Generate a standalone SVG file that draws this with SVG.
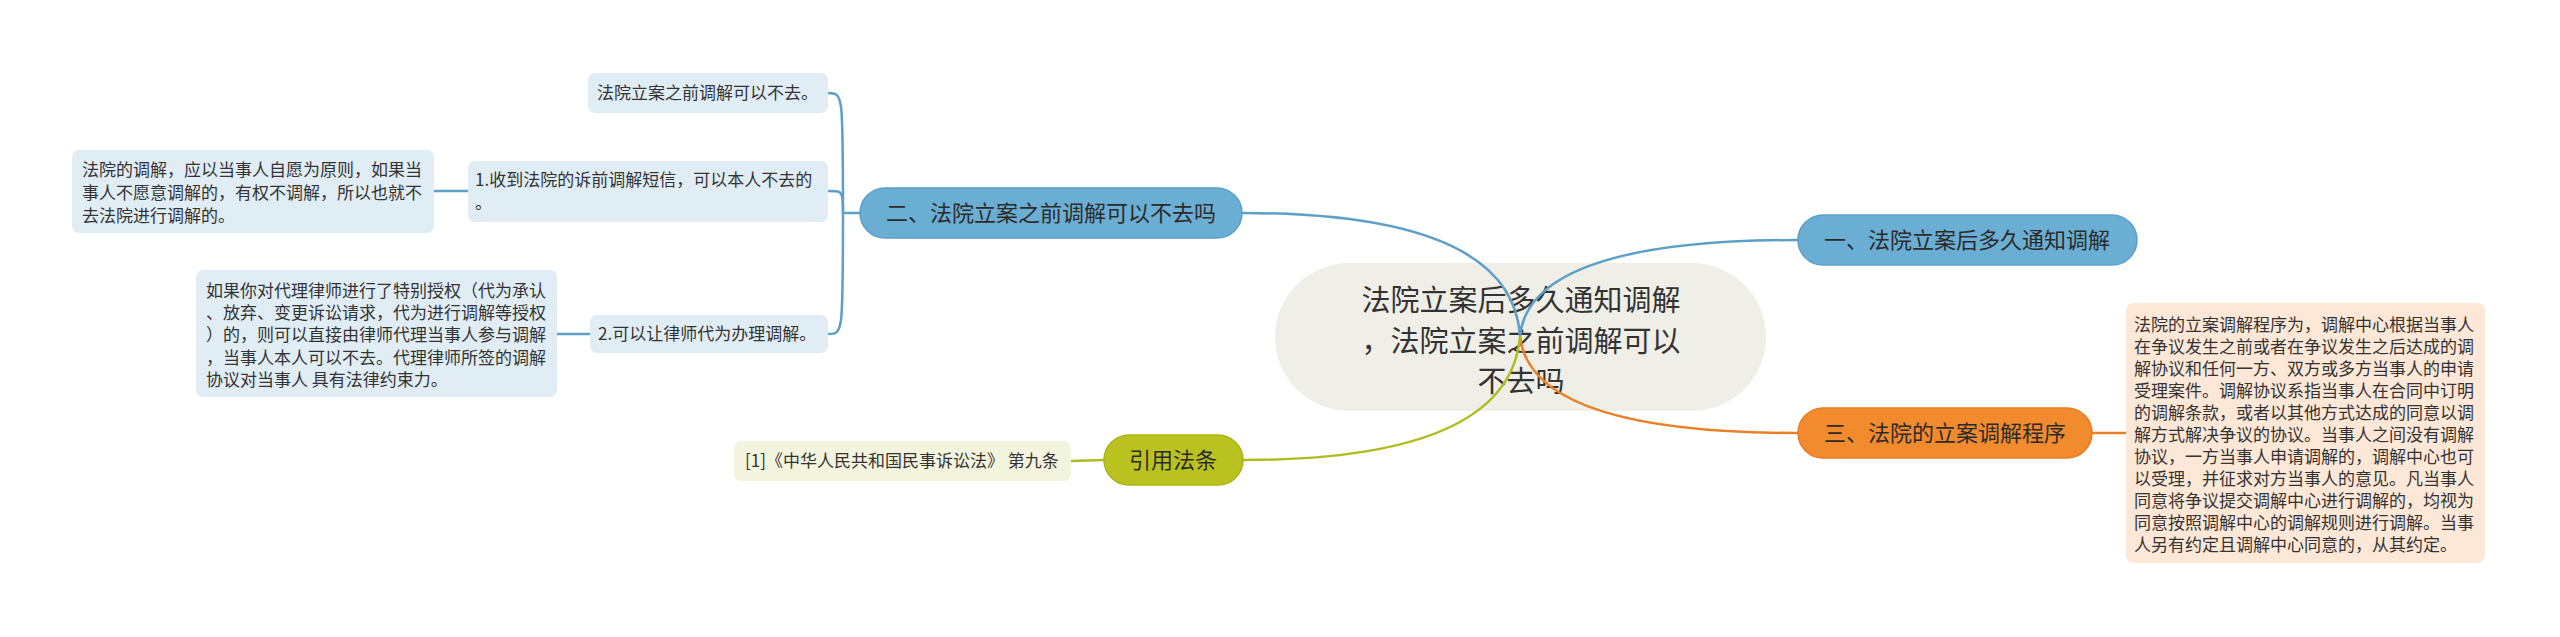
<svg xmlns="http://www.w3.org/2000/svg" width="2560" height="637" viewBox="0 0 2560 637">
<style>
text{font-family:"Noto Sans CJK SC","Liberation Sans",sans-serif;fill:#333;}
.root{fill:#efefe7;}
.rt{font-size:29px;text-anchor:middle;}
.bt{font-size:22px;text-anchor:middle;fill:#2b2b2b;}
.lt{font-size:17px;}
.bl{fill:#6aaed4;stroke:#5d9fc6;stroke-width:1.5;}
.or{fill:#f28a2e;stroke:#e67d22;stroke-width:1.5;}
.gr{fill:#b9c21f;stroke:#aab51b;stroke-width:1.5;}
.lb{fill:#e0edf5;}
.lo{fill:#fde7d6;}
.lg{fill:#f3f4dd;}
.cb{fill:none;stroke:#5d9fc6;stroke-width:2.5;}
.co{fill:none;stroke:#ec7f26;stroke-width:2.5;}
.cg{fill:none;stroke:#aebc1f;stroke-width:2.5;}
</style>
<rect width="2560" height="637" fill="#ffffff"/>
<g id="root">
<rect class="root" x="1275" y="263" width="491" height="148" rx="74"/>
<text class="rt" x="1521" y="311">法院立案后多久通知调解</text>
<text class="rt" x="1521" y="352">，法院立案之前调解可以</text>
<text class="rt" x="1521" y="392">不去吗</text>
</g>
<g id="connectors">
<path class="cb" d="M1520 336 Q1530 240 1798 240"/>
<path class="cb" d="M1520 336 Q1512 213 1242 213"/>
<path class="co" d="M1520 336 Q1530 433 1798 433"/>
<path class="cg" d="M1520 336 Q1510 460 1243 460"/>
<path class="cb" d="M860 213 L843 213"/>
<path class="cb" d="M843 213 C843 93 843 93 828 93"/>
<path class="cb" d="M843 213 C843 191 843 191 828 191"/>
<path class="cb" d="M843 213 C843 334 843 334 828 334"/>
<path class="cb" d="M468 191 L434 191"/>
<path class="cb" d="M590 334 L557 334"/>
<path class="co" d="M2092 433 L2126 433"/>
<path class="cg" d="M1104 460 L1071 461"/>
</g>
<g id="b1">
<rect class="bl" x="1798" y="215" width="339" height="50" rx="25"/>
<text class="bt" x="1967" y="248">一、法院立案后多久通知调解</text>
</g>
<g id="b2">
<rect class="bl" x="860" y="188" width="382" height="50" rx="25"/>
<text class="bt" x="1051" y="221">二、法院立案之前调解可以不去吗</text>
</g>
<g id="b3">
<rect class="or" x="1798" y="408" width="294" height="50" rx="25"/>
<text class="bt" x="1945" y="441">三、法院的立案调解程序</text>
</g>
<g id="b4">
<rect class="gr" x="1104" y="435" width="139" height="50" rx="25"/>
<text class="bt" x="1173" y="468">引用法条</text>
</g>
<g id="leaf-a">
<rect class="lb" x="588" y="73" width="240" height="40" rx="7"/>
<text class="lt" x="597" y="99">法院立案之前调解可以不去。</text>
</g>
<g id="leaf-b">
<rect class="lb" x="468" y="161" width="360" height="61" rx="7"/>
<text class="lt" x="475" y="186">1.收到法院的诉前调解短信，可以本人不去的</text>
<text class="lt" x="475" y="209">。</text>
</g>
<g id="leaf-b1">
<rect class="lb" x="72" y="150" width="362" height="83" rx="7"/>
<text class="lt" x="82" y="176">法院的调解，应以当事人自愿为原则，如果当</text>
<text class="lt" x="82" y="199">事人不愿意调解的，有权不调解，所以也就不</text>
<text class="lt" x="82" y="222">去法院进行调解的。</text>
</g>
<g id="leaf-c">
<rect class="lb" x="590" y="315" width="238" height="38" rx="7"/>
<text class="lt" x="598" y="340">2.可以让律师代为办理调解。</text>
</g>
<g id="leaf-c1">
<rect class="lb" x="196" y="270" width="361" height="127" rx="7"/>
<text class="lt" x="206" y="297">如果你对代理律师进行了特别授权（代为承认</text>
<text class="lt" x="206" y="319">、放弃、变更诉讼请求，代为进行调解等授权</text>
<text class="lt" x="206" y="341">）的，则可以直接由律师代理当事人参与调解</text>
<text class="lt" x="206" y="364">，当事人本人可以不去。代理律师所签的调解</text>
<text class="lt" x="206" y="386">协议对当事人 具有法律约束力。</text>
</g>
<g id="leaf-d">
<rect class="lg" x="734" y="441" width="337" height="40" rx="7"/>
<text class="lt" x="745" y="467">[1]《中华人民共和国民事诉讼法》 第九条</text>
</g>
<g id="leaf-e">
<rect class="lo" x="2126" y="303" width="359" height="260" rx="8"/>
<text class="lt" x="2134" y="331">法院的立案调解程序为，调解中心根据当事人</text>
<text class="lt" x="2134" y="353">在争议发生之前或者在争议发生之后达成的调</text>
<text class="lt" x="2134" y="375">解协议和任何一方、双方或多方当事人的申请</text>
<text class="lt" x="2134" y="397">受理案件。调解协议系指当事人在合同中订明</text>
<text class="lt" x="2134" y="419">的调解条款，或者以其他方式达成的同意以调</text>
<text class="lt" x="2134" y="441">解方式解决争议的协议。当事人之间没有调解</text>
<text class="lt" x="2134" y="463">协议，一方当事人申请调解的，调解中心也可</text>
<text class="lt" x="2134" y="485">以受理，并征求对方当事人的意见。凡当事人</text>
<text class="lt" x="2134" y="507">同意将争议提交调解中心进行调解的，均视为</text>
<text class="lt" x="2134" y="529">同意按照调解中心的调解规则进行调解。当事</text>
<text class="lt" x="2134" y="551">人另有约定且调解中心同意的，从其约定。</text>
</g>
</svg>
